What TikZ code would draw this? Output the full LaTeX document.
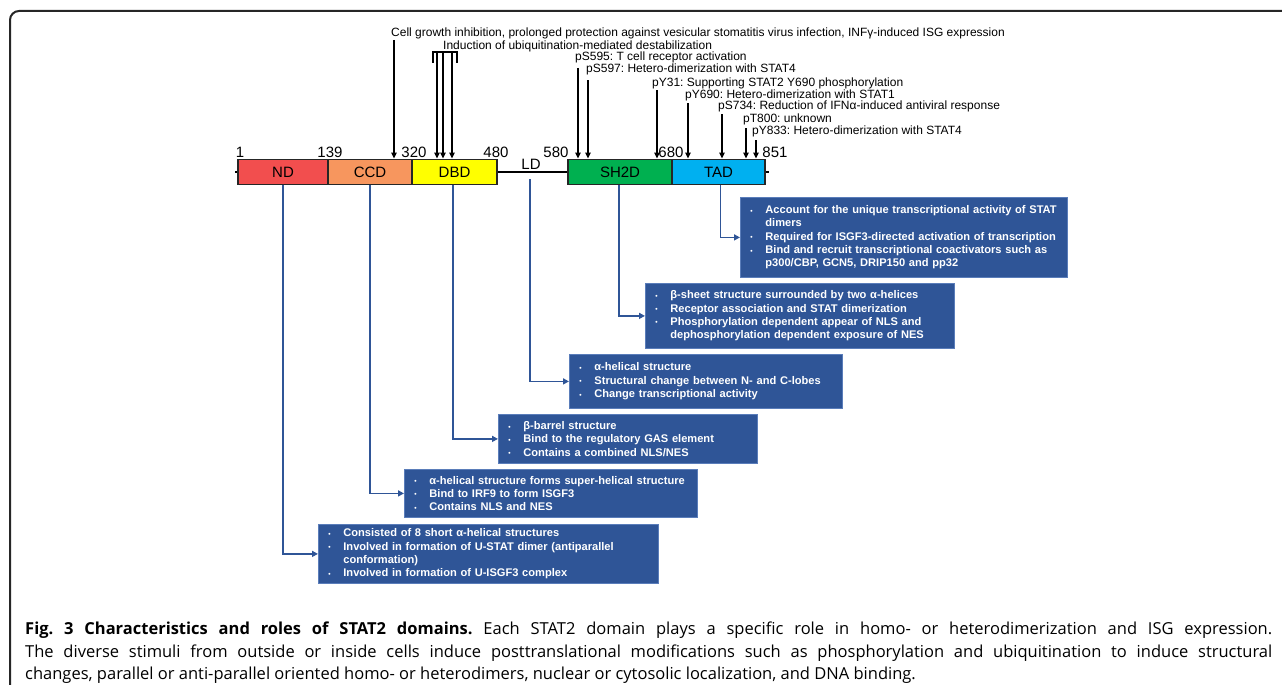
\documentclass[tikz,border=0pt]{standalone}
\usepackage{fontspec}
\setmainfont{Liberation Sans}
\newfontfamily\capfont{Open Sans}
\usetikzlibrary{arrows.meta}
\definecolor{ndc}{HTML}{F24E4E}
\definecolor{ccdc}{HTML}{F7965E}
\definecolor{dbdc}{HTML}{FFFF00}
\definecolor{shc}{HTML}{00B050}
\definecolor{tadc}{HTML}{00B0F0}
\definecolor{boxc}{HTML}{2F5597}
\definecolor{boxe}{HTML}{5A7DBA}
\definecolor{linec}{HTML}{2F5597}
\newcommand{\bu}{\makebox[15pt][l]{\raisebox{0.5pt}{\scalebox{0.6}{\textbullet}}}}
\newcommand{\ind}{\hspace*{15pt}}
\frenchspacing
\begin{document}
\begin{tikzpicture}[x=1pt,y=-1pt,
 dom/.style={draw=black!85, line width=1.3pt, minimum height=25pt, inner sep=0pt, outer sep=0pt, anchor=west, font=\fontsize{15}{15}\selectfont},
 num/.style={anchor=base, font=\fontsize{15}{15}\selectfont, inner sep=0pt},
 ann/.style={anchor=base west, font=\fontsize{12}{12}\selectfont, inner sep=0pt},
 parr/.style={-{Triangle[length=6pt,width=5.5pt]}, line width=1.2pt},
 infobox/.style={fill=boxc, draw=boxe, line width=0.8pt, text=white, anchor=north west, inner xsep=10pt, inner ysep=0pt, align=left, font=\fontsize{11.1}{13.3}\selectfont\bfseries},
 conn/.style={draw=linec, line width=1.6pt, -{Triangle[length=6pt,width=6pt]}}]
\useasboundingbox (0,0) rectangle (1282,685);
% frame
\draw[line width=2pt, black!85, rounded corners=9pt] (10,700) -- (10,11) -- (1295,11);
% backbone line
\coordinate (bl) at (235,172);
\coordinate (br) at (769,172);
\draw[line width=1.3pt] (bl) -- (br);
% domains
\node[dom, fill=ndc, minimum width=90pt] (nd) at (238,172) {ND};
\node[dom, fill=ccdc, minimum width=84pt] (ccd) at (328,172) {CCD};
\node[dom, fill=dbdc, minimum width=85pt] (dbd) at (412,172) {DBD};
\node[dom, fill=shc, minimum width=104pt] (sh) at (568,172) {SH2D};
\node[dom, fill=tadc, minimum width=93pt] (tad) at (672,172) {TAD};
\node[anchor=base, font=\fontsize{15}{15}\selectfont, inner sep=0pt] (ld) at (531,169) {LD};
% numbers
\node[num] (n1) at (240,157.5) {1};
\node[num] (n139) at (330,157.5) {139};
\node[num] (n320) at (414,157.5) {320};
\node[num] (n480) at (496,157.5) {480};
\node[num] (n580) at (556,157.5) {580};
\node[num] (n680) at (671,157.5) {680};
\node[num] (n851) at (775,157.5) {851};
% annotations
\node[ann] (a1) at (391,37) {Cell growth inhibition, prolonged protection against vesicular stomatitis virus infection, INFγ-induced ISG expression};
\node[ann] (a2) at (443,49) {Induction of ubiquitination-mediated destabilization};
\node[ann] (a3) at (575,61) {pS595: T cell receptor activation};
\node[ann] (a4) at (586,73) {pS597: Hetero-dimerization with STAT4};
\node[ann] (a5) at (652,86) {pY31: Supporting STAT2 Y690 phosphorylation};
\node[ann] (a6) at (685,98) {pY690: Hetero-dimerization with STAT1};
\node[ann] (a7) at (718,110) {pS734: Reduction of IFNα-induced antiviral response};
\node[ann] (a8) at (743,122) {pT800: unknown};
\node[ann] (a9) at (752,134) {pY833: Hetero-dimerization with STAT4};
% arrows from annotations
\coordinate (s1) at (394,40); \coordinate (e1) at (394,158.5);
\draw[parr] (s1) -- (e1);
\draw[line width=1.2pt] (433,63) -- (433,52) -- (457,52) -- (457,63);
\coordinate (s2a) at (437,52); \coordinate (e2a) at (437,158.5);
\coordinate (s2b) at (443,52); \coordinate (e2b) at (443,158.5);
\coordinate (s2c) at (452,52); \coordinate (e2c) at (452,158.5);
\draw[parr] (s2a) -- (e2a);
\draw[parr] (s2b) -- (e2b);
\draw[parr] (s2c) -- (e2c);
\coordinate (s3) at (578,68); \coordinate (e3) at (578,158.5);
\coordinate (s4) at (588,80); \coordinate (e4) at (588,158.5);
\coordinate (s5) at (657,90); \coordinate (e5) at (657,158.5);
\coordinate (s6) at (688,103); \coordinate (e6) at (688,158.5);
\coordinate (s7) at (722,114); \coordinate (e7) at (722,158.5);
\coordinate (s8) at (746,128); \coordinate (e8) at (746,158.5);
\coordinate (s9) at (756,140); \coordinate (e9) at (756,158.5);
\foreach \i in {3,...,9} {\draw[parr] (s\i) -- (e\i);}
% info boxes
\node[infobox, text width=307pt, minimum height=80pt] (btad) at (740,197) {\mbox{\bu Account for the unique transcriptional activity of STAT}\\\ind dimers\\\mbox{\bu Required for ISGF3-directed activation of transcription}\\\bu Bind and recruit transcriptional coactivators such as\\\ind p300/CBP, GCN5, DRIP150 and pp32};
\node[infobox, text width=289pt, minimum height=65pt] (bsh) at (645,283) {\bu β-sheet structure surrounded by two α-helices\\\bu Receptor association and STAT dimerization\\\bu Phosphorylation dependent appear of NLS and\\\ind dephosphorylation dependent exposure of NES};
\node[infobox, text width=253pt, minimum height=54pt] (bld) at (569,354) {\bu α-helical structure\\\bu Structural change between N- and C-lobes\\\bu Change transcriptional activity};
\node[infobox, text width=239pt, minimum height=49pt] (bdbd) at (498,414) {\bu β-barrel structure\\\bu Bind to the regulatory GAS element\\\bu Contains a combined NLS/NES};
\node[infobox, text width=273pt, minimum height=48pt] (bccd) at (404,469) {\bu α-helical structure forms super-helical structure\\\bu Bind to IRF9 to form ISGF3\\\bu Contains NLS and NES};
\node[infobox, text width=320pt, minimum height=59pt] (bnd) at (318,524) {\bu Consisted of 8 short α-helical structures\\\bu Involved in formation of U-STAT dimer (antiparallel\\\ind conformation)\\\bu Involved in formation of U-ISGF3 complex};
% connectors
\coordinate (ldc) at (530,179);
\draw[conn] ([xshift=2pt]tad.south) |- (btad.west);
\draw[conn] ([xshift=-1pt]sh.south) |- (bsh.west);
\draw[conn] (ldc) |- (bld.west);
\draw[conn] ([xshift=-1.5pt]dbd.south) |- (bdbd.west);
\draw[conn] (ccd.south) |- (bccd.west);
\draw[conn] (nd.south) |- (bnd.west);
% caption
\node[anchor=north west, text width=1247pt, align=justify, inner sep=0pt, font=\capfont\fontsize{16.5}{22.5}\selectfont] (cap) at (25,622) {\frenchspacing\textbf{Fig. 3 Characteristics and roles of STAT2 domains.} Each STAT2 domain plays a specific role in homo- or heterodimerization and ISG expression.\linebreak The diverse stimuli from outside or inside cells induce posttranslational modifications such as phosphorylation and ubiquitination to induce structural\linebreak changes, parallel or anti-parallel oriented homo- or heterodimers, nuclear or cytosolic localization, and DNA binding.};
\end{tikzpicture}
\end{document}
